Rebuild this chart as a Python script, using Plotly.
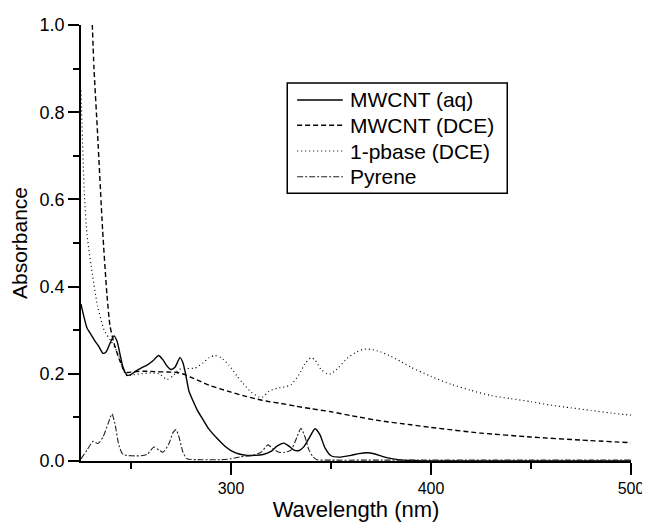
import plotly.graph_objects as go

# ---- data (wavelength nm, absorbance) ----
aq_wl = [225, 226.5, 228, 230, 232, 234, 236, 237.5, 239.5, 241.5, 243, 244.5, 246, 248, 250,
         252, 255, 258, 261, 263.8, 266, 268, 270, 272, 274.5, 276, 277.5, 279, 281, 283, 286,
         289, 293, 297, 300, 304, 308, 312, 316, 320, 323, 326.5, 329, 331.5, 334, 336.5, 339,
         342, 344.5, 347, 350, 354, 360, 364, 368, 372, 376, 381, 386, 392, 400, 450, 500]
aq_abs = [0.36, 0.33, 0.305, 0.29, 0.275, 0.262, 0.247, 0.25, 0.27, 0.287, 0.275, 0.245, 0.215, 0.197, 0.198,
          0.205, 0.213, 0.22, 0.23, 0.242, 0.232, 0.218, 0.21, 0.215, 0.237, 0.225, 0.195, 0.16, 0.138, 0.118, 0.095,
          0.073, 0.052, 0.034, 0.024, 0.016, 0.013, 0.013, 0.015, 0.022, 0.034, 0.041, 0.034, 0.025, 0.024, 0.033, 0.052,
          0.074, 0.06, 0.03, 0.012, 0.009, 0.013, 0.017, 0.019, 0.016, 0.01, 0.005, 0.002, 0.001, 0.0, 0.0, 0.0]

dce_wl = [230.5, 231.5, 233.3, 235.8, 238, 239.5, 241.5, 244, 246.5, 248, 252, 256, 262, 268, 273,
          277, 280, 285, 290, 295, 300, 306, 312, 318, 325, 332, 340, 350, 360, 375, 390, 400,
          425, 450, 475, 500]
dce_abs = [1.02, 0.9, 0.75, 0.53, 0.38, 0.31, 0.27, 0.235, 0.208, 0.203, 0.205, 0.206, 0.205, 0.204, 0.203,
           0.198, 0.192, 0.182, 0.172, 0.165, 0.158, 0.15, 0.143, 0.137, 0.132, 0.126, 0.12, 0.113, 0.104, 0.092, 0.083, 0.077,
           0.064, 0.055, 0.048, 0.042]

pb_wl = [225, 226.6, 228, 230, 233.3, 236.6, 240, 242, 244, 246, 248, 250, 255, 260, 264, 268, 271,
         274, 278, 282, 286, 289, 292, 295, 299, 303, 306, 310, 314, 316, 319, 323, 327, 330, 334,
         337, 340, 342, 345, 348, 350, 354, 358, 362, 366, 370, 375, 380, 385, 390, 400, 410, 420,
         430, 440, 450, 460, 470, 480, 490, 500]
pb_abs = [0.85, 0.62, 0.52, 0.45, 0.355, 0.30, 0.275, 0.26, 0.24, 0.21, 0.195, 0.197, 0.2, 0.202, 0.2, 0.187, 0.195,
          0.21, 0.212, 0.213, 0.225, 0.237, 0.242, 0.237, 0.22, 0.195, 0.178, 0.158, 0.147, 0.147, 0.16, 0.167, 0.17, 0.175, 0.198,
          0.223, 0.237, 0.232, 0.21, 0.2, 0.2, 0.215, 0.235, 0.248, 0.256, 0.256, 0.25, 0.24, 0.228, 0.215, 0.194, 0.176, 0.162,
          0.15, 0.143, 0.136, 0.128, 0.122, 0.116, 0.11, 0.105]

py_wl = [225, 228, 231, 233.5, 236, 238.5, 240.5, 242, 244, 246, 250, 255, 258, 261.5, 264, 266, 269,
         271, 272.5, 274, 276, 278, 285, 295, 300, 305, 310, 315, 318.5, 321, 324, 327, 330, 333,
         335, 337, 339, 341, 343, 350, 375, 400, 425, 450, 475, 500]
py_abs = [0.005, 0.025, 0.045, 0.04, 0.055, 0.085, 0.108, 0.085, 0.035, 0.015, 0.012, 0.012, 0.015, 0.032, 0.025, 0.02, 0.04,
          0.065, 0.072, 0.055, 0.02, 0.005, 0.003, 0.003, 0.005, 0.01, 0.012, 0.02, 0.037, 0.028, 0.02, 0.02, 0.025, 0.055,
          0.075, 0.055, 0.025, 0.01, 0.003, 0.002, 0.002, 0.002, 0.002, 0.002, 0.002, 0.002]

names = ["MWCNT (aq)", "MWCNT (DCE)", "1-pbase (DCE)", "Pyrene"]

x_ticks = [300, 400, 500]
y_ticks = [0.0, 0.2, 0.4, 0.6, 0.8, 1.0]
y_ticklabels = ["0.0", "0.2", "0.4", "0.6", "0.8", "1.0"]

FONT = "Liberation Sans, Arial, sans-serif"

styles = [
    dict(color="black", width=1.4, dash="solid"),
    dict(color="black", width=1.4, dash="5px,3px"),
    dict(color="black", width=1.2, dash="1px,3px"),
    dict(color="#222", width=1.1, dash="6px,2px,2px,2px"),
]
series = [(aq_wl, aq_abs), (dce_wl, dce_abs), (pb_wl, pb_abs), (py_wl, py_abs)]

fig = go.Figure()
for (xs, ys), nm, st in zip(series, names, styles):
    fig.add_trace(go.Scatter(x=xs, y=ys, name=nm, mode="lines", showlegend=False,
                             line=dict(shape="spline", smoothing=0.6, **st)))

# ---- hand-built legend box (paper coordinates) ----
leg_x0, leg_x1, leg_y0, leg_y1 = 0.375, 0.775, 0.614, 0.867
row_y = [0.828, 0.770, 0.711, 0.652]
fig.add_shape(type="rect", xref="paper", yref="paper", x0=leg_x0, x1=leg_x1, y0=leg_y0, y1=leg_y1,
              line=dict(color="black", width=1.5), fillcolor="white", layer="above")
for ry, nm, st in zip(row_y, names, styles):
    fig.add_shape(type="line", xref="paper", yref="paper", x0=0.393, x1=0.476, y0=ry, y1=ry,
                  line=st, layer="above")
    fig.add_annotation(xref="paper", yref="paper", x=0.485, y=ry, xanchor="left", yanchor="middle",
                       text=nm, showarrow=False, font=dict(size=21, family=FONT, color="black"))

fig.update_layout(
    template="none",
    width=642, height=521,
    margin=dict(l=73, r=19, t=17, b=68),
    paper_bgcolor="white", plot_bgcolor="white",
    font=dict(family=FONT, size=18, color="black"),
    showlegend=False,
    xaxis=dict(range=[225, 500], tickmode="array", tickvals=x_ticks, ticks="outside", ticklen=12, tickwidth=1.8,
               tickcolor="black", showline=True, linecolor="black", linewidth=1.6,
               showgrid=False, zeroline=False, tickfont=dict(size=16), ticklabeloverflow="allow",
               minor=dict(tick0=250, dtick=50, ticks="outside", ticklen=6, tickwidth=1.8, tickcolor="black"),
               title=dict(text="Wavelength (nm)", font=dict(size=22), standoff=6)),
    yaxis=dict(range=[0, 1.0], tickmode="array", tickvals=y_ticks, ticktext=y_ticklabels, ticks="outside", ticklen=11,
               tickwidth=1.8, tickcolor="black", showline=True, linecolor="black", linewidth=1.6,
               showgrid=False, zeroline=False,
               minor=dict(tick0=0, dtick=0.1, ticks="outside", ticklen=6, tickwidth=1.8, tickcolor="black"),
               title=dict(text="Absorbance", font=dict(size=21), standoff=18)),
)

fig.write_html("out.html")
